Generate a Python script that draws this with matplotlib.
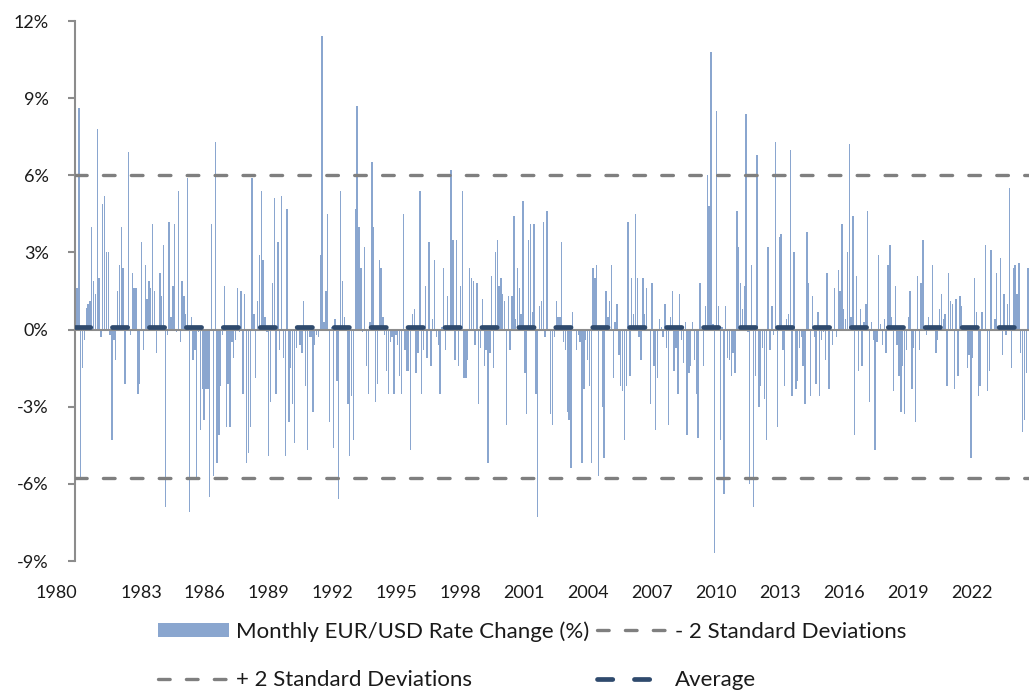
import numpy as np
import matplotlib
matplotlib.use("Agg")
import matplotlib.pyplot as plt
from matplotlib.patches import Patch
from matplotlib.lines import Line2D

plt.rcParams["font.family"] = ["Lato", "DejaVu Sans"]
plt.rcParams["lines.scale_dashes"] = False

# monthly EUR/USD change in % (Jan 1980 onwards)
monthly_change = [
    1.6, 8.6, -5.8, -1.5, -0.4, 0.85, 1.0, 1.1, 4.0, 1.9, 1.4, 7.8, 2.0, -0.3, 4.9, 5.2, 3.0, 3.0, -0.2, -4.3,
    -0.4, -1.2, 1.5, 2.5, 4.0, 2.4, -2.1, 0.0, 6.9, -0.2, 2.2, 1.6, 1.6, -2.5, -2.1, 3.4, -0.8, 2.5, 1.2, 1.9,
    1.6,
    4.1, 1.5, -0.9, 0.0, 2.2, 1.3, 3.3, -6.9, -0.2, 4.2, 0.5, 1.7, 4.1, -0.1, 5.4, -0.5, 1.9, 1.3, 0.6, 5.9,
    -7.1, 0.5, -1.2, -0.8, -5.8, -0.1, -3.9, -2.3, -3.5, -2.3, -2.3, -6.5, 4.1, -5.7, 7.3, -5.2, -4.1, -2.2,
    -0.2, 1.7, -3.8, -2.1, -3.8, -0.5,
    -1.1, -0.4, 1.6, -0.1, 1.5, -2.5, 1.4, -5.2, -4.8, -3.8, 5.9, 0.6, -1.9, 1.1, 2.9, 5.4, 2.7, 0.5, -0.1,
    -4.9, -2.8, 1.8, 5.1, -2.5, 3.4, -0.8, 5.2, -1.1, -4.9, 4.7, -3.6, -1.5, -2.9, -4.4, -0.7, 0.0, -0.6,
    -0.9, 1.1, -2.2, -4.7, -0.3, -0.3,
    -3.2, -0.6, -0.2, -0.3, 2.9, 11.4, 0.3, 1.5, 4.5, -3.6, 0.1, -4.6, 0.4, -2.0, -6.6, 5.4, 1.9, 0.5, 0.0,
    -2.9, -4.9, -2.6, -4.3, 4.7, 8.7, 4.0, 2.4, -0.1, 3.2, -1.4, -2.5, 0.3, 6.5, 4.0, -2.8, -2.1, 2.7, 2.4,
    0.5, -0.2, -1.6, -2.5, -0.5, -0.3,
    -2.5, -0.2, -0.6, -1.8, -2.5, 4.5, -0.8, -1.6, -1.6, -4.7, 0.6, 0.8, -1.7, -0.9, 5.4, -2.5, -0.8, 1.7,
    -1.1, 3.4, -1.4, 0.4, 2.7, -0.3, -0.6, -2.5, 0.1, 2.4, -0.8, 1.3, 0.0, 6.2, 3.5, -1.2, 3.5, -1.4, 1.7,
    5.4, -1.9, -1.9, -1.2, 2.4, 2.0,
    1.9, -0.6, 1.8, -2.9, -0.7, 1.2, -1.4, -0.8, -5.2, -0.9, 2.1, -1.5, 3.0, 3.5, 1.7, 2.0, 1.4, 1.1, -3.7,
    1.3, -0.8, 1.3, 4.4, 0.4, 2.4, 1.6, 0.6, 5.0, -1.7, -3.3, 3.5, 4.1, 0.7, 4.1, -2.5, -7.3, 0.9, 1.1, 4.2,
    -0.3, 4.6, 0.0, -3.3,
    -3.7, -0.3, 1.1, 0.5, 0.5, 3.4, -0.5, -0.8, -3.2, -3.5, -5.4, 0.7, 0.0, -0.8, -0.2, -0.5, -5.2, -2.3,
    -0.4, -1.2, -2.2, -5.2, 2.4, 2.0, 2.5, -5.7, 0.0, -3.0, -5.0, 1.5, 0.5, 1.1, 2.5, -1.9, 0.3, 1.0, -1.0,
    -2.2, -2.4, -4.3, -2.2, 4.2, -1.8, 2.0,
    0.6, 4.5, 2.0, -0.3, -1.2, 2.0, 0.6, 1.6, 0.0, -2.9, 1.8, -1.4, -3.9, -1.9, 0.4, 0.1, -0.3, 1.0, -0.7,
    -3.7, 0.5, 1.5, -1.6, -0.7, -2.5, 1.4, -0.4, -1.3, 0.3, -4.1, -1.7, -1.4, 0.3, -1.2, -2.5, -4.2, 1.8,
    0.0, -1.4, 0.9, 6.0, 4.8, 10.8,
    0.2, -8.7, 8.5, 0.9, -4.3, 0.1, -6.4, 0.9, -1.1, -1.2, -1.8, -0.9, -1.7, 4.6, 3.2, 1.8, 0.8, 1.7, 8.4,
    -0.1, -6.0, 2.5, -6.9, -1.8, 6.8, -3.0, -2.2, -0.7, -2.7, -4.3, 3.2, -0.8, 0.9, -0.2, 7.3, -3.8, 3.6,
    3.7, -0.8, -2.2, 0.4, 0.6, 7.0, -2.6,
    3.0, -2.3, -2.0, -0.7, -0.3, -1.4, -2.9, 3.8, 1.8, -2.6, 1.3, -0.3, -2.1, 0.7, -2.6, -0.4, -0.1, -1.2,
    2.2, -2.3, 0.0, -0.6, 1.6, -0.3, 2.3, 1.5, 4.1, 0.8, 0.4, 3.0, 7.2, 0.5, 4.4, -4.1, 2.1, -1.6, 0.8,
    -1.4, 0.3, 1.0, 4.6, -2.8, 0.3,
    -0.4, -4.7, -0.5, 2.9, 0.2, -0.6, 0.4, -0.9, 2.5, 3.3, 0.5, -2.4, 1.7, -0.6, -1.8, -3.2, -1.4, -3.3,
    -0.8, 0.5, 1.5, -2.3, -0.7, -3.6, 2.1, -0.8, 1.8, 3.5, 0.0, -0.2, 0.5, 0.1, 2.5, 0.0, -0.9, -0.4, 0.8,
    1.4, 0.4, 0.6, -2.2, 2.2, 1.1,
    1.0, -2.3, 1.2, -1.8, 1.3, 0.9, 0.0, 0.1, -1.5, -1.0, -5.0, -1.1, 2.0, 0.7, -2.6, -2.2, 0.7, 0.0, 3.3,
    -2.4, -1.6, 3.1, 0.0, 0.4, 2.2, 0.1, 2.8, -1.0, 1.4, -0.2, 1.0, 5.5, -1.5, 2.4, 2.5, 1.4, 2.6, -0.9,
    -4.0, -3.5, -1.7, 2.4,
]

# reference lines as shown on the chart
average = 0.11
plus_2sd = 6.0
minus_2sd = -5.78

tick_years = list(range(1980, 2023, 3))
y_ticks = [-9, -6, -3, 0, 3, 6, 9, 12]

bar_color = "#8AA6CF"
sd_color = "#7F7F7F"
avg_color = "#2F4A6D"
text_color = "#1a1a1a"

n = len(monthly_change)
x = np.linspace(1980.0, 2024.65, n)
step = x[1] - x[0]

fig = plt.figure(figsize=(10.29, 6.92), dpi=100)
ax = fig.add_axes([75 / 1029, 1 - 561 / 692, 1 - 75 / 1029, (561 - 21) / 692])

ax.bar(x, monthly_change, width=step * 0.75, color=bar_color, linewidth=0, zorder=2)

ax.axhline(0, color="#8C8C8C", lw=1.5, zorder=3)

sd_dash = (0, (8.4, 11.7))
avg_dash = (0, (11, 15.6))
ax.axhline(plus_2sd, color=sd_color, lw=2.4, linestyle=sd_dash, dash_capstyle="round", zorder=4)
ax.axhline(minus_2sd, color=sd_color, lw=2.4, linestyle=sd_dash, dash_capstyle="round", zorder=4)
ax.axhline(average, color=avg_color, lw=3.4, linestyle=avg_dash, dash_capstyle="round", zorder=5)

ax.set_xlim(1980 - 2 / 21.3, 1980 + (1029 - 77) / 21.3)
ax.set_ylim(-9, 12)

ax.set_yticks(y_ticks)
ax.set_yticklabels([f"{v}%" for v in y_ticks])
ax.set_xticks(tick_years)
ax.set_xticklabels([str(yr) for yr in tick_years])

ax.tick_params(axis="y", length=5, width=1.5, color="#8C8C8C", pad=14,
               labelsize=13, labelcolor=text_color)
ax.tick_params(axis="x", length=0, pad=17, labelsize=13, labelcolor=text_color)
ax.get_xticklabels()[0].set_horizontalalignment("right")

for side in ["top", "right", "bottom"]:
    ax.spines[side].set_visible(False)
ax.spines["left"].set_color("#8C8C8C")
ax.spines["left"].set_linewidth(1.5)

handles = [
    Patch(facecolor=bar_color, edgecolor="none"),
    Line2D([], [], color=sd_color, lw=2.4, linestyle=sd_dash, dash_capstyle="round"),
    Line2D([], [], color=sd_color, lw=2.4, linestyle=sd_dash, dash_capstyle="round"),
    Line2D([], [], color=avg_color, lw=3.4, linestyle=avg_dash, dash_capstyle="round"),
]
labels = [
    "Monthly EUR/USD Rate Change (%)",
    "+ 2 Standard Deviations",
    "- 2 Standard Deviations",
    "Average",
]
fig.legend(handles, labels, ncol=2, loc="upper left",
           bbox_to_anchor=(158 / 1029, 1 - 621 / 692),
           frameon=False, fontsize=16, labelcolor=text_color,
           handlelength=3.2, handleheight=0.6, handletextpad=0.3,
           columnspacing=0.35, labelspacing=1.3, borderpad=0, borderaxespad=0)

fig.savefig("out.png", dpi=100)
